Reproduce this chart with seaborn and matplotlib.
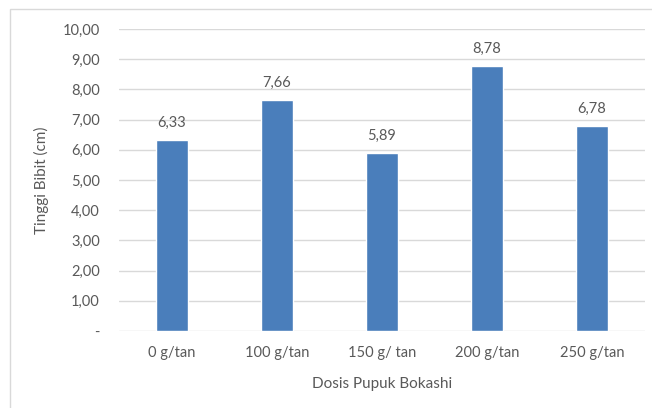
import matplotlib
matplotlib.use("Agg")
import matplotlib.pyplot as plt
import seaborn as sns
import pandas as pd
from matplotlib.patches import Rectangle

dosis = ["0 g/tan", "100 g/tan", "150 g/ tan", "200 g/tan", "250 g/tan"]
tinggi = [6.33, 7.66, 5.89, 8.78, 6.78]
yticks = [0, 1, 2, 3, 4, 5, 6, 7, 8, 9, 10]

df = pd.DataFrame({"dosis": dosis, "tinggi": tinggi})

sns.set_style("white")
plt.rcParams["font.family"] = ["Lato", "DejaVu Sans"]
txt = "#595959"

fig = plt.figure(figsize=(6.52, 4.08), dpi=100)
ax = fig.add_axes([0.183, 0.189, 0.8055, 0.74])

sns.barplot(data=df, x="dosis", y="tinggi", color="#4A7EBB", saturation=1,
            width=0.305, ax=ax, zorder=3)

ax.set_ylim(0, 10)
ax.set_yticks(yticks)
ax.set_yticklabels(["-" if v == 0 else f"{v:.2f}".replace(".", ",") for v in yticks])
ax.grid(axis="y", color="#D9D9D9", linewidth=1, zorder=0)
for s in ax.spines.values():
    s.set_visible(False)
ax.tick_params(axis="both", length=0, labelsize=10.5, labelcolor=txt)
ax.tick_params(axis="y", pad=14)
ax.tick_params(axis="x", pad=11)

for i, v in enumerate(tinggi):
    ax.text(i, v + 0.33, f"{v:.2f}".replace(".", ","), ha="center", va="bottom",
            fontsize=10.5, color=txt)

ax.set_xlabel("Dosis Pupuk Bokashi", fontsize=11, color=txt, labelpad=12)
ax.set_ylabel("Tinggi Bibit (cm)", fontsize=11, color=txt, labelpad=10)

fig.patches.append(Rectangle((10 / 652, -0.05), 1.2, 1 - 9 / 408 + 0.05,
                             transform=fig.transFigure, fill=False,
                             edgecolor="#D9D9D9", linewidth=1))

fig.savefig("out.png", dpi=100)
